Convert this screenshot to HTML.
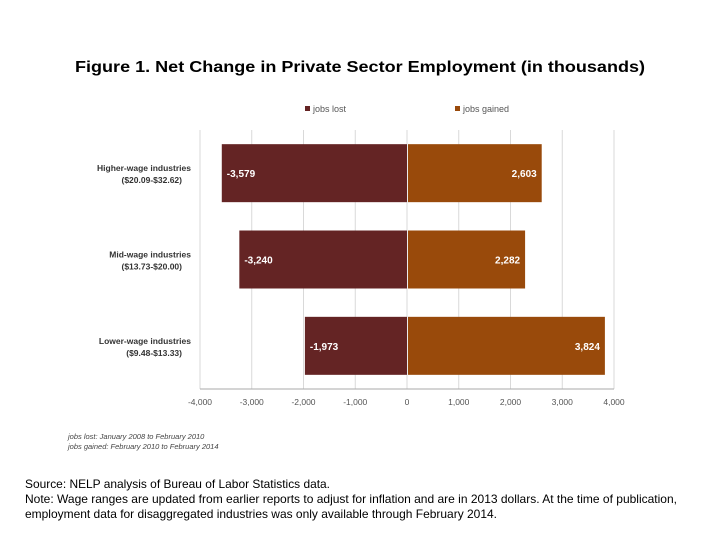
<!DOCTYPE html>
<html><head><meta charset="utf-8"><style>
body{margin:0;width:720px;height:540px;background:#fff;font-family:"Liberation Sans",sans-serif;overflow:hidden}
</style></head><body>
<svg width="720" height="540" xmlns="http://www.w3.org/2000/svg">
<text x="75" y="72" font-size="16" font-weight="bold" textLength="570" lengthAdjust="spacingAndGlyphs">Figure 1. Net Change in Private Sector Employment (in thousands)</text>
<g id="grid"></g>
<g id="bars"></g>
<g id="axis"></g>
<g id="cats"></g>
<g>
<rect x="305" y="106" width="5" height="5" fill="#642424"/>
<text x="313" y="112" font-size="9" fill="#555">jobs lost</text>
<rect x="455" y="106" width="5" height="5" fill="#994a0b"/>
<text x="463" y="112" font-size="9" fill="#555">jobs gained</text>
</g>
<text x="68" y="439" font-size="7.5" font-style="italic" fill="#444">jobs lost: January 2008 to February 2010</text>
<text x="68" y="449" font-size="7.5" font-style="italic" fill="#444">jobs gained: February 2010 to February 2014</text>
<text x="25" y="488" font-size="12" textLength="305" lengthAdjust="spacingAndGlyphs">Source: NELP analysis of Bureau of Labor Statistics data.</text>
<text x="25" y="503" font-size="12" textLength="652" lengthAdjust="spacingAndGlyphs">Note: Wage ranges are updated from earlier reports to adjust for inflation and are in 2013 dollars. At the time of publication,</text>
<text x="25" y="518" font-size="12" textLength="472" lengthAdjust="spacingAndGlyphs">employment data for disaggregated industries was only available through February 2014.</text>
</svg>
<script>
const categories=["Higher-wage industries","Mid-wage industries","Lower-wage industries"];
const ranges=["($20.09-$32.62)","($13.73-$20.00)","($9.48-$13.33)"];
const jobsLost=[-3579,-3240,-1973];
const jobsGained=[2603,2282,3824];
const ticks=[-4000,-3000,-2000,-1000,0,1000,2000,3000,4000];
const NS="http://www.w3.org/2000/svg";
const x0=200,x1=614,vmin=-4000,vmax=4000,yTop=130,yBot=389,bandH=(yBot-yTop)/categories.length,barH=58;
const X=v=>x0+(v-vmin)/(vmax-vmin)*(x1-x0);
const Yc=i=>yTop+bandH*(i+0.5);
function mk(tag,attrs,parent){const e=document.createElementNS(NS,tag);for(const k in attrs)e.setAttribute(k,attrs[k]);parent.appendChild(e);return e;}
const fmt=v=>(v<0?"-":"")+Math.abs(v).toLocaleString("en-US");
const grid=document.getElementById("grid"),axis=document.getElementById("axis"),bars=document.getElementById("bars"),cats=document.getElementById("cats");
ticks.forEach(t=>{
  const l=mk("line",{x1:X(t),x2:X(t),y1:yTop,y2:yBot,stroke:"#d9d9d9","stroke-width":1},grid);
  
  
  const tx=mk("text",{x:X(t),y:yBot+16,"text-anchor":"middle","font-size":8.5,fill:"#555"},axis);
  tx.textContent=fmt(t);
  
  
});
const al=mk("line",{x1:x0,x2:x1,y1:yBot,y2:yBot,stroke:"#aaa","stroke-width":1},axis);


categories.forEach((c,i)=>{
  const y=Yc(i)-barH/2;
  const a=mk("rect",{x:X(jobsLost[i]),y:y,width:X(0)-X(jobsLost[i]),height:barH,fill:"#642424"},bars);
  
  
  const b=mk("rect",{x:X(0)+1,y:y,width:X(jobsGained[i])-X(0)-1,height:barH,fill:"#994a0b"},bars);
  
  
  const t1=mk("text",{x:X(jobsLost[i])+5,y:Yc(i)+4,"font-size":10,fill:"#fff","font-weight":"bold"},bars);
  t1.textContent=fmt(jobsLost[i]);
  
  
  const t2=mk("text",{x:X(jobsGained[i])-5,y:Yc(i)+4,"font-size":10,fill:"#fff","font-weight":"bold","text-anchor":"end"},bars);
  t2.textContent=fmt(jobsGained[i]);
  
  
  const c1=mk("text",{x:191,y:Yc(i)-2,"font-size":8.5,"font-weight":"bold","text-anchor":"end",fill:"#333"},cats);
  c1.textContent=c;
  
  
  const c2=mk("text",{x:182,y:Yc(i)+10,"font-size":8.5,"font-weight":"bold","text-anchor":"end",fill:"#333"},cats);
  c2.textContent=ranges[i];
  
  
});
</script>
</body></html>
